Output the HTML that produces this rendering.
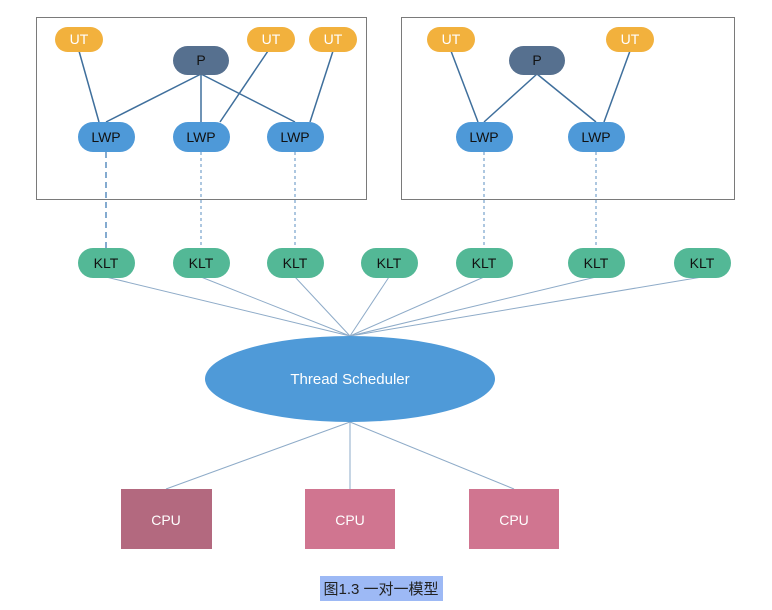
<!DOCTYPE html>
<html><head><meta charset="utf-8"><style>
html,body{margin:0;padding:0;background:#fff;}
svg{display:block;font-family:"Liberation Sans","Noto Sans CJK SC",sans-serif;}
</style></head><body>
<svg width="772" height="610" viewBox="0 0 772 610" xmlns="http://www.w3.org/2000/svg">
<rect x="36.5" y="17.5" width="330" height="182" fill="none" stroke="#7a7a7a" stroke-width="1"/>
<rect x="401.5" y="17.5" width="333" height="182" fill="none" stroke="#7a7a7a" stroke-width="1"/>
<g stroke="#3f6f9c" stroke-width="1.5" fill="none">
<line x1="79" y1="51" x2="99" y2="122"/>
<line x1="201" y1="74" x2="106" y2="122"/>
<line x1="201" y1="74" x2="201" y2="122"/>
<line x1="201" y1="74" x2="295" y2="122"/>
<line x1="268" y1="51" x2="220" y2="122"/>
<line x1="333" y1="51" x2="310" y2="122"/>
<line x1="451" y1="51" x2="478" y2="122"/>
<line x1="537" y1="74" x2="484" y2="122"/>
<line x1="537" y1="74" x2="596" y2="122"/>
<line x1="630" y1="51" x2="604" y2="122"/>
</g>
<g stroke="#5b8fc0" stroke-width="1" fill="none" stroke-dasharray="3,3">
<line x1="106" y1="152" x2="106" y2="249" stroke-width="1.5" stroke-dasharray="6,4"/>
<line x1="201" y1="152" x2="201" y2="249"/>
<line x1="295" y1="152" x2="295" y2="249"/>
<line x1="484" y1="152" x2="484" y2="249"/>
<line x1="596" y1="152" x2="596" y2="249"/>
</g>
<g stroke="#8eabc8" stroke-width="1" fill="none">
<line x1="106" y1="277" x2="350" y2="336"/>
<line x1="201" y1="277" x2="350" y2="336"/>
<line x1="295" y1="277" x2="350" y2="336"/>
<line x1="389" y1="277" x2="350" y2="336"/>
<line x1="484" y1="277" x2="350" y2="336"/>
<line x1="596" y1="277" x2="350" y2="336"/>
<line x1="702" y1="277" x2="350" y2="336"/>
<line x1="350" y1="422" x2="166" y2="489"/>
<line x1="350" y1="422" x2="350" y2="489"/>
<line x1="350" y1="422" x2="514" y2="489"/>
</g>
<g font-size="14" text-anchor="middle">
<g fill="#f2b13d"><rect x="55" y="27" width="48" height="25" rx="12.5"/><rect x="247" y="27" width="48" height="25" rx="12.5"/><rect x="309" y="27" width="48" height="25" rx="12.5"/><rect x="427" y="27" width="48" height="25" rx="12.5"/><rect x="606" y="27" width="48" height="25" rx="12.5"/></g>
<g fill="#fff"><text x="79" y="44">UT</text><text x="271" y="44">UT</text><text x="333" y="44">UT</text><text x="451" y="44">UT</text><text x="630" y="44">UT</text></g>
<g fill="#56708f"><rect x="173" y="46" width="56" height="29" rx="14.5"/><rect x="509" y="46" width="56" height="29" rx="14.5"/></g>
<g fill="#111"><text x="201" y="65">P</text><text x="537" y="65">P</text></g>
<g fill="#4e99d8"><rect x="78" y="122" width="57" height="30" rx="15"/><rect x="173" y="122" width="57" height="30" rx="15"/><rect x="267" y="122" width="57" height="30" rx="15"/><rect x="456" y="122" width="57" height="30" rx="15"/><rect x="568" y="122" width="57" height="30" rx="15"/></g>
<g fill="#111"><text x="106" y="142">LWP</text><text x="201" y="142">LWP</text><text x="295" y="142">LWP</text><text x="484" y="142">LWP</text><text x="596" y="142">LWP</text></g>
<g fill="#53b896"><rect x="78" y="248" width="57" height="30" rx="15"/><rect x="173" y="248" width="57" height="30" rx="15"/><rect x="267" y="248" width="57" height="30" rx="15"/><rect x="361" y="248" width="57" height="30" rx="15"/><rect x="456" y="248" width="57" height="30" rx="15"/><rect x="568" y="248" width="57" height="30" rx="15"/><rect x="674" y="248" width="57" height="30" rx="15"/></g>
<g fill="#111"><text x="106" y="268">KLT</text><text x="201" y="268">KLT</text><text x="295" y="268">KLT</text><text x="389" y="268">KLT</text><text x="484" y="268">KLT</text><text x="596" y="268">KLT</text><text x="702" y="268">KLT</text></g>
<ellipse cx="350" cy="379" rx="145" ry="43" fill="#4f9ad8"/>
<text x="350" y="384" fill="#fff" font-size="15">Thread Scheduler</text>
<rect x="121" y="489" width="91" height="60" fill="#b3697f"/>
<rect x="305" y="489" width="90" height="60" fill="#d07590"/>
<rect x="469" y="489" width="90" height="60" fill="#d07590"/>
<g fill="#fff"><text x="166" y="525">CPU</text><text x="350" y="525">CPU</text><text x="514" y="525">CPU</text></g>
</g>
<rect x="320" y="576" width="123" height="25" fill="#9db9f5"/>
<text x="381" y="594" font-size="15" text-anchor="middle" fill="#222">图1.3 一对一模型</text>
</svg>
</body></html>
